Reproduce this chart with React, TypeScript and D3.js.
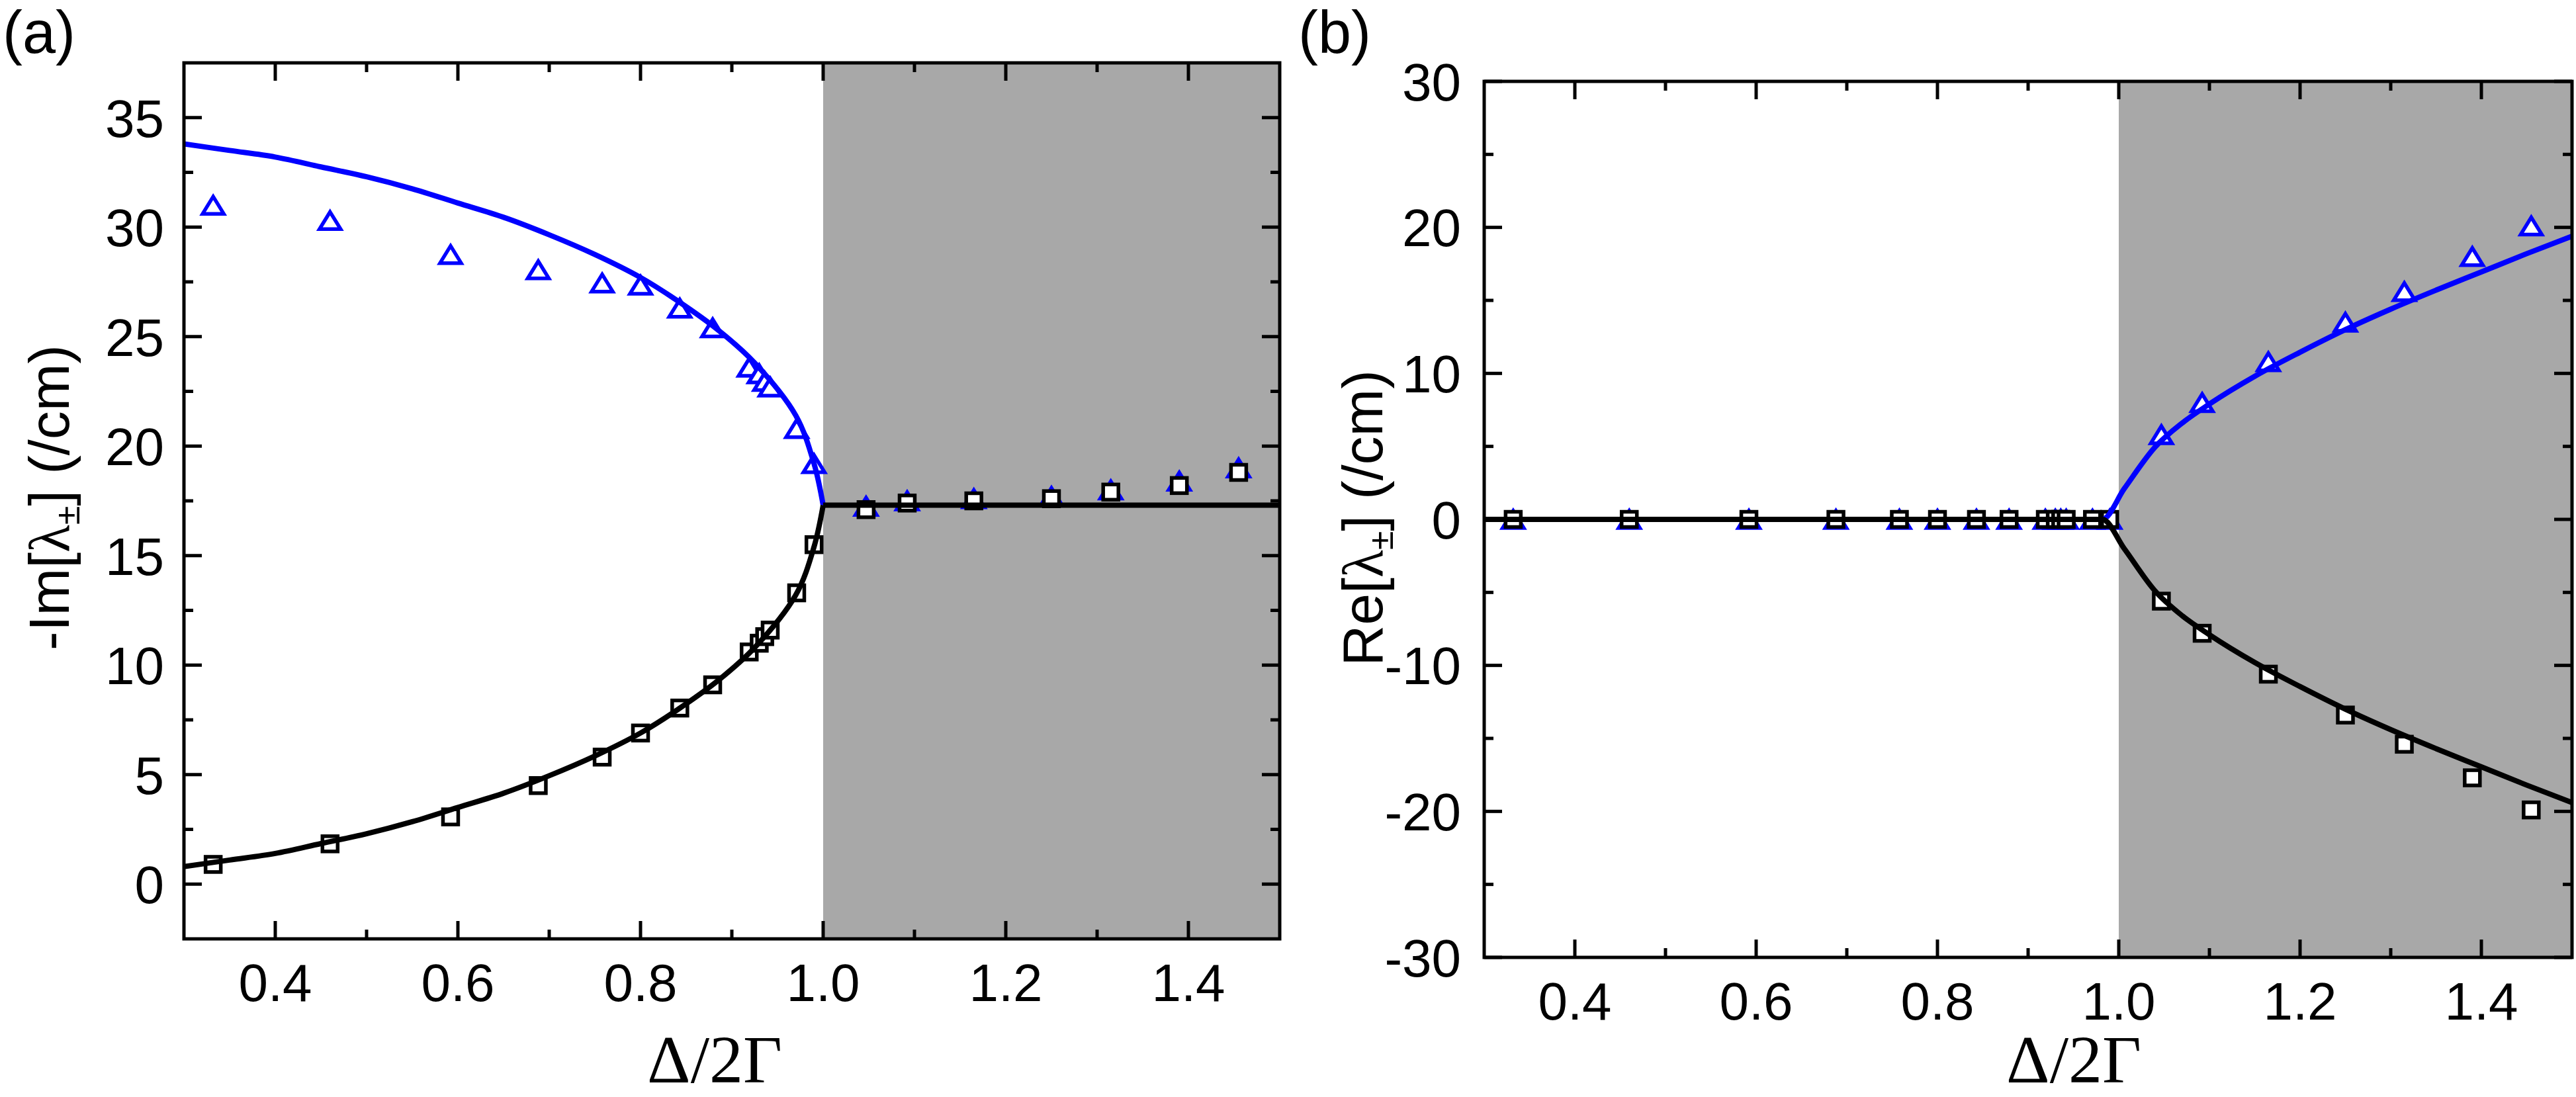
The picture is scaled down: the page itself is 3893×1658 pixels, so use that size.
import * as d3 from "d3";

// measured points (both panels share the same detuning values)
const xMeas = [0.332, 0.46, 0.592, 0.688, 0.758, 0.8, 0.843, 0.879, 0.919, 0.93, 0.936, 0.942, 0.971, 0.99, 1.047, 1.092, 1.165, 1.25, 1.315, 1.39, 1.455];
const imPlus = [31.0, 30.3, 28.75, 28.05, 27.45, 27.35, 26.3, 25.4, 23.6, 23.3, 22.95, 22.7, 20.8, 19.2, 17.25, 17.5, 17.6, 17.7, 18.0, 18.4, 19.0];
const imMinus = [0.9, 1.84, 3.07, 4.5, 5.8, 6.9, 8.04, 9.1, 10.6, 11.0, 11.3, 11.6, 13.3, 15.5, 17.1, 17.4, 17.5, 17.6, 17.9, 18.2, 18.8];
const rePlus = [0, 0, 0, 0, 0, 0, 0, 0, 0, 0, 0, 0, 0, 0, 5.8, 8.0, 10.8, 13.5, 15.6, 18.0, 20.1];
const reMinus = [0, 0, 0, 0, 0, 0, 0, 0, 0, 0, 0, 0, 0, 0, -5.6, -7.8, -10.6, -13.4, -15.4, -17.7, -19.9];

// theory curves
const imFitX = [0.3, 0.35, 0.4, 0.45, 0.5, 0.55, 0.6, 0.65, 0.7, 0.75, 0.8, 0.84, 0.885, 0.925, 0.97, 0.99, 1.0];
const imFitPlus = [33.8, 33.5, 33.2, 32.75, 32.3, 31.75, 31.1, 30.45, 29.65, 28.75, 27.7, 26.65, 25.3, 23.8, 21.4, 19.2, 17.3];
const imFitMinus = [0.8, 1.1, 1.4, 1.85, 2.3, 2.85, 3.5, 4.15, 4.95, 5.85, 6.9, 7.95, 9.3, 10.8, 13.2, 15.4, 17.3];
const imFlatX = [1.0, 1.5];
const imFlat = [17.3, 17.3];

const reFitX = [0.3, 0.982, 1.006, 1.04, 1.07, 1.1, 1.15, 1.2, 1.25, 1.3, 1.35, 1.4, 1.45, 1.5];
const reFitPlus = [0, 0, 2.1, 4.95, 6.6, 7.9, 9.8, 11.45, 13.0, 14.4, 15.7, 16.95, 18.2, 19.4];
const reFitMinus = [0, 0, -2.0, -4.9, -6.6, -7.9, -9.8, -11.45, -13.0, -14.4, -15.7, -16.95, -18.2, -19.4];

const xMajor = [0.4, 0.6, 0.8, 1.0, 1.2, 1.4];
const xMinor = [0.5, 0.7, 0.9, 1.1, 1.3];
const imMajor = [0, 5, 10, 15, 20, 25, 30, 35];
const imMinor = [2.5, 7.5, 12.5, 17.5, 22.5, 27.5, 32.5];
const reMajor = [-30, -20, -10, 0, 10, 20, 30];
const reMinor = [-25, -15, -5, 5, 15, 25];

const BLUE = "#0000ff";
const GRAY = "#a8a8a8";
const SANS = "Liberation Sans, Arial, sans-serif";
const SERIF = "Liberation Serif, Times New Roman, serif";

const pairs = (xs: number[], ys: number[]) => xs.map((x, i) => [x, ys[i]] as [number, number]);

function Triangle({ x, y }: { x: number; y: number }) {
  const w = 32, h = 26;
  return (
    <path
      d={`M${x},${y - h / 2}L${x + w / 2},${y + h / 2}L${x - w / 2},${y + h / 2}Z`}
      fill="#fff"
      stroke={BLUE}
      strokeWidth={5.5}
      strokeLinejoin="miter"
    />
  );
}

function Square({ x, y }: { x: number; y: number }) {
  const s = 23;
  return <rect x={x - s / 2} y={y - s / 2} width={s} height={s} fill="#fff" stroke="#000" strokeWidth={5.5} />;
}

interface PanelProps {
  id: string;
  left: number;
  right: number;
  top: number;
  bottom: number;
  yDomain: [number, number];
  yMajor: number[];
  yMinor: number[];
  tri: number[];
  sq: number[];
  blueLines: [number, number][][];
  blackLines: [number, number][][];
  labelGap: number;
  curve: d3.CurveFactory;
}

function Panel(p: PanelProps) {
  const x = d3.scaleLinear().domain([0.3, 1.5]).range([p.left, p.right]);
  const y = d3.scaleLinear().domain(p.yDomain).range([p.bottom, p.top]);
  const line = d3
    .line<[number, number]>()
    .x((d) => x(d[0]))
    .y((d) => y(d[1]))
    .curve(p.curve);
  const majLen = 27;
  const minLen = 14;
  const tickStyle = { stroke: "#000", strokeWidth: 5 };

  return (
    <g>
      <defs>
        <clipPath id={`clip-${p.id}`}>
          <rect x={p.left} y={p.top} width={p.right - p.left} height={p.bottom - p.top} />
        </clipPath>
      </defs>
      <rect x={x(1.0)} y={p.top} width={x(1.5) - x(1.0)} height={p.bottom - p.top} fill={GRAY} />

      <g clipPath={`url(#clip-${p.id})`}>
        {xMeas.map((v, i) => (
          <Triangle key={`t${i}`} x={x(v)} y={y(p.tri[i])} />
        ))}
        {xMeas.map((v, i) => (
          <Square key={`s${i}`} x={x(v)} y={y(p.sq[i])} />
        ))}
        {p.blueLines.map((l, i) => (
          <path key={`b${i}`} d={line(l) ?? ""} fill="none" stroke={BLUE} strokeWidth={8} />
        ))}
        {p.blackLines.map((l, i) => (
          <path key={`k${i}`} d={line(l) ?? ""} fill="none" stroke="#000" strokeWidth={8} />
        ))}
      </g>

      {/* ticks on all four sides, pointing in */}
      {xMajor.map((t) => (
        <g key={`xm${t}`}>
          <line x1={x(t)} x2={x(t)} y1={p.bottom} y2={p.bottom - majLen} {...tickStyle} />
          <line x1={x(t)} x2={x(t)} y1={p.top} y2={p.top + majLen} {...tickStyle} />
        </g>
      ))}
      {xMinor.map((t) => (
        <g key={`xn${t}`}>
          <line x1={x(t)} x2={x(t)} y1={p.bottom} y2={p.bottom - minLen} {...tickStyle} />
          <line x1={x(t)} x2={x(t)} y1={p.top} y2={p.top + minLen} {...tickStyle} />
        </g>
      ))}
      {p.yMajor.map((t) => (
        <g key={`ym${t}`}>
          <line x1={p.left} x2={p.left + majLen} y1={y(t)} y2={y(t)} {...tickStyle} />
          <line x1={p.right} x2={p.right - majLen} y1={y(t)} y2={y(t)} {...tickStyle} />
        </g>
      ))}
      {p.yMinor.map((t) => (
        <g key={`yn${t}`}>
          <line x1={p.left} x2={p.left + minLen} y1={y(t)} y2={y(t)} {...tickStyle} />
          <line x1={p.right} x2={p.right - minLen} y1={y(t)} y2={y(t)} {...tickStyle} />
        </g>
      ))}

      <rect
        x={p.left}
        y={p.top}
        width={p.right - p.left}
        height={p.bottom - p.top}
        fill="none"
        stroke="#000"
        strokeWidth={5}
      />

      {xMajor.map((t) => (
        <text key={`xl${t}`} x={x(t)} y={p.bottom + 94} textAnchor="middle" fontFamily={SANS} fontSize={80}>
          {d3.format(".1f")(t)}
        </text>
      ))}
      {p.yMajor.map((t) => (
        <text
          key={`yl${t}`}
          x={p.left - p.labelGap}
          y={y(t)}
          dy="0.36em"
          textAnchor="end"
          fontFamily={SANS}
          fontSize={80}
        >
          {t}
        </text>
      ))}
    </g>
  );
}

function YLabel({ x, y, prefix }: { x: number; y: number; prefix: string }) {
  return (
    <text transform={`translate(${x},${y}) rotate(-90)`} textAnchor="middle" fontFamily={SANS} fontSize={86}>
      {prefix}[<tspan fontFamily={SERIF}>λ</tspan>
      <tspan fontSize={52} dy={16}>±</tspan>
      <tspan dy={-16}>] (/cm)</tspan>
    </text>
  );
}

export default function App() {
  return (
    <svg
      width={3893}
      height={1658}
      style={{ position: "absolute", left: 0, top: 0, background: "#fff" }}
    >
      <rect width={3893} height={1658} fill="#fff" />
      <Panel
        id="a"
        left={278}
        right={1934}
        top={95}
        bottom={1419}
        yDomain={[-2.5, 37.5]}
        yMajor={imMajor}
        yMinor={imMinor}
        tri={imPlus}
        sq={imMinus}
        blueLines={[pairs(imFitX, imFitPlus)]}
        blackLines={[pairs(imFitX, imFitMinus), pairs(imFlatX, imFlat)]}
        labelGap={30}
        curve={d3.curveCatmullRom.alpha(0.5)}
      />
      <Panel
        id="b"
        left={2243}
        right={3887}
        top={123}
        bottom={1447}
        yDomain={[-30, 30]}
        yMajor={reMajor}
        yMinor={reMinor}
        tri={rePlus}
        sq={reMinus}
        blueLines={[pairs(reFitX, reFitPlus)]}
        blackLines={[pairs(reFitX, reFitMinus)]}
        labelGap={35}
        curve={d3.curveMonotoneX}
      />

      <text x={4} y={80} fontFamily={SANS} fontSize={90}>(a)</text>
      <text x={1962} y={80} fontFamily={SANS} fontSize={90}>(b)</text>

      <YLabel x={104} y={752} prefix="-Im" />
      <YLabel x={2089} y={783} prefix="Re" />

      <text x={1080} y={1636} textAnchor="middle" fontFamily={SERIF} fontSize={102}>Δ/2Γ</text>
      <text x={3134} y={1636} textAnchor="middle" fontFamily={SERIF} fontSize={102}>Δ/2Γ</text>
    </svg>
  );
}
